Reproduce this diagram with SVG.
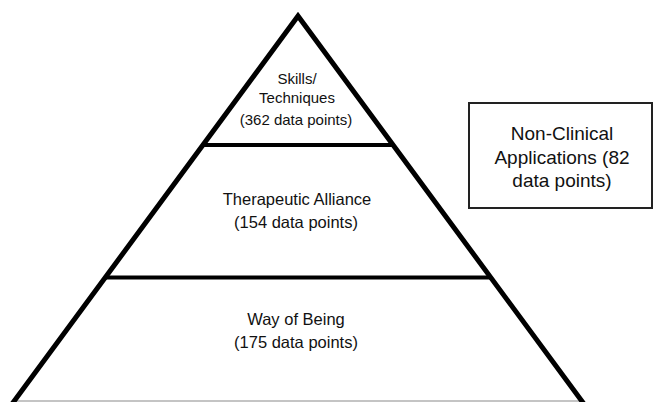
<svg xmlns="http://www.w3.org/2000/svg" width="654" height="402" viewBox="0 0 654 402">
  <style>
    .edge { fill: none; stroke: #000; stroke-width: 5; stroke-linejoin: miter; }
    .sep { stroke: #000; stroke-width: 4; }
    .base { stroke: #c4c4c4; stroke-width: 2; }
    .box { fill: #fff; stroke: #222; stroke-width: 2; }
    text { font-family: "Liberation Sans", Arial, sans-serif; fill: #111; text-anchor: middle; }
    .t15 { font-size: 15px; }
    .t16 { font-size: 16.5px; }
    .t19 { font-size: 19px; }
  </style>
  <rect width="654" height="402" fill="#fff"/>

  <!-- pyramid outline and tier dividers -->
  <g id="pyramid">
    <line class="base" x1="16" y1="401" x2="580" y2="401"/>
    <polyline class="edge" points="12,404 298,16 584,404"/>
    <line class="sep" x1="202" y1="145" x2="394" y2="145"/>
    <line class="sep" x1="105" y1="277.5" x2="491" y2="277.5"/>
  </g>

  <g id="tier-skills">
    <text class="t15" x="297" y="84">Skills/</text>
    <text class="t15" x="297" y="103">Techniques</text>
    <text class="t15" x="296" y="125">(362 data points)</text>
  </g>

  <g id="tier-alliance">
    <text class="t16" x="297" y="205">Therapeutic Alliance</text>
    <text class="t16" x="296" y="228">(154 data points)</text>
  </g>

  <g id="tier-being">
    <text class="t16" x="296" y="325">Way of Being</text>
    <text class="t16" x="296" y="348">(175 data points)</text>
  </g>

  <g id="non-clinical">
    <rect class="box" x="469" y="103" width="183" height="105"/>
    <text class="t19" x="562" y="140">Non-Clinical</text>
    <text class="t19" x="562" y="164">Applications (82</text>
    <text class="t19" x="562" y="187">data points)</text>
  </g>
</svg>
